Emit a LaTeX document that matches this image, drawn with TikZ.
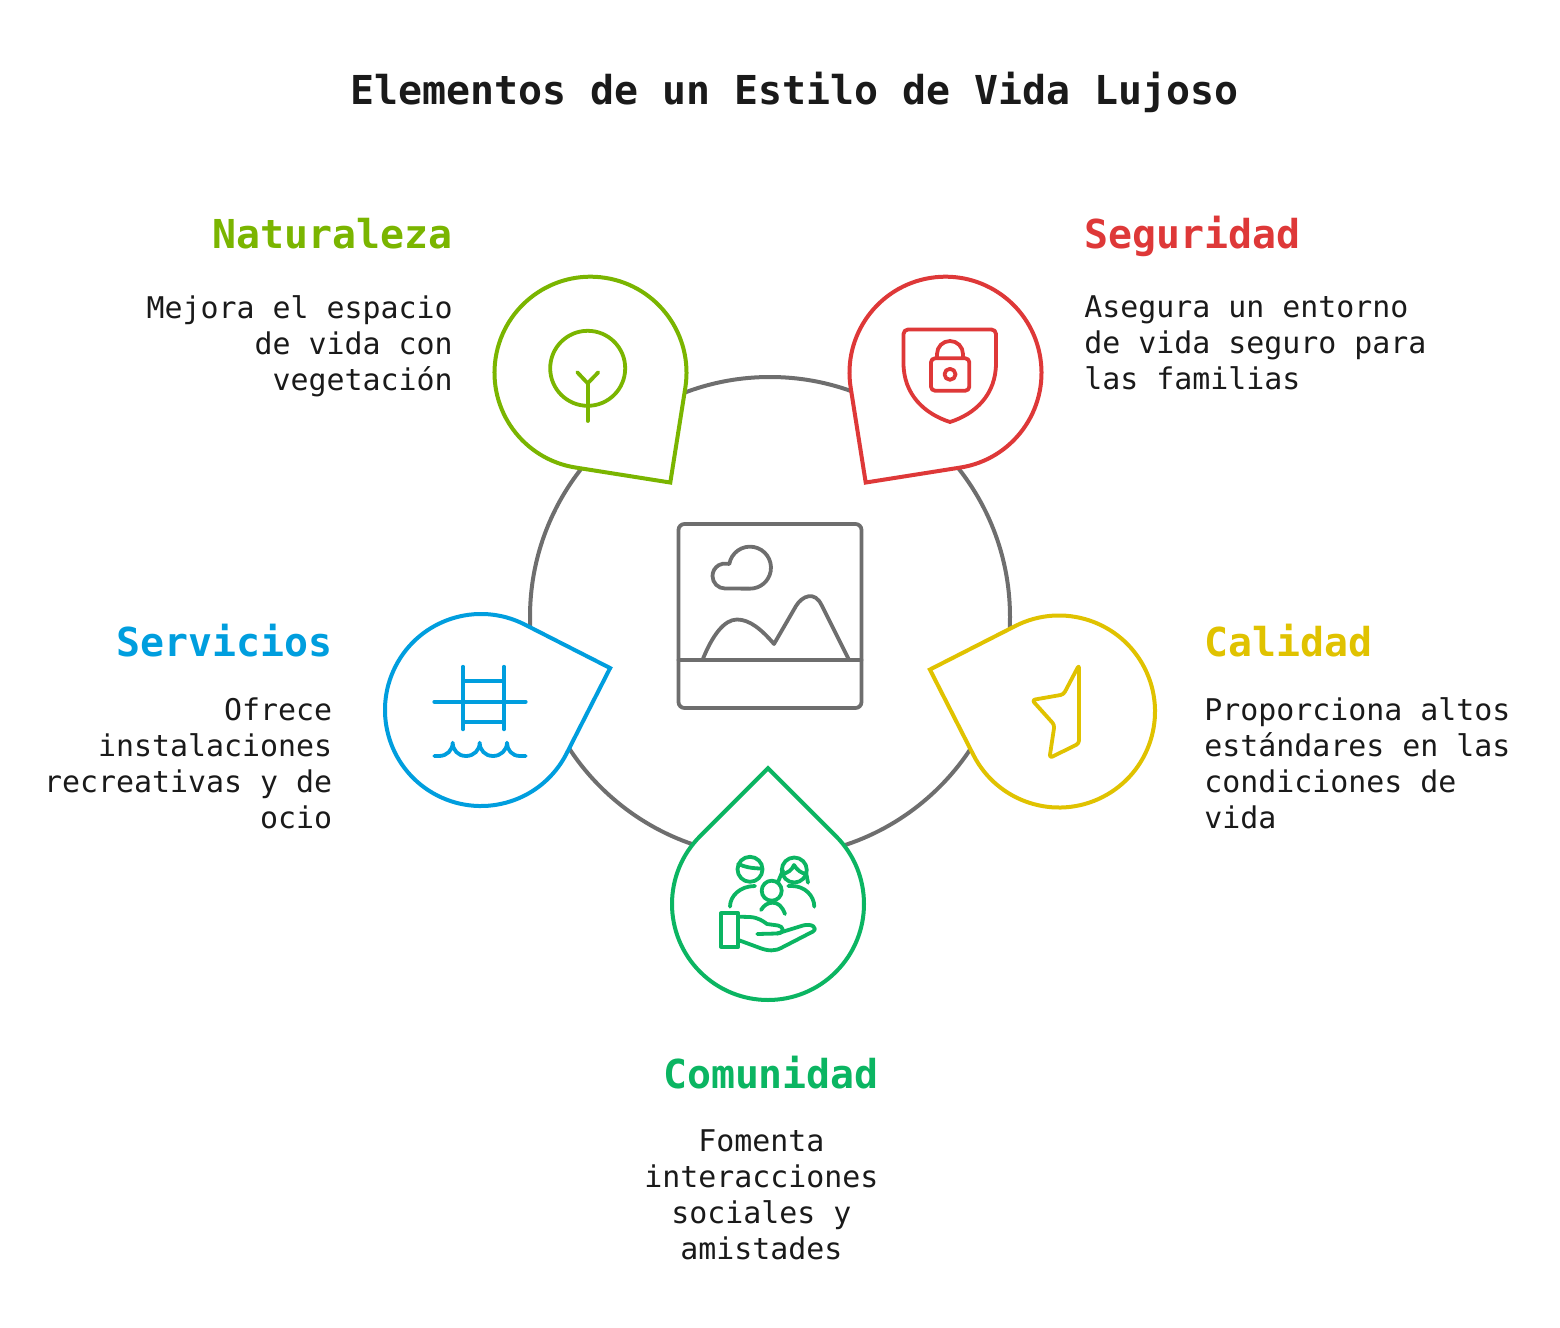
\documentclass[tikz,border=0pt]{standalone}
\usepackage{fontspec}
\setmonofont{DejaVu Sans Mono}
\usetikzlibrary{positioning, calc}
\definecolor{mygray}{RGB}{110,110,110}
\definecolor{myink}{RGB}{26,26,26}
\definecolor{myolive}{RGB}{122,181,0}
\definecolor{myred}{RGB}{222,56,56}
\definecolor{myyellow}{RGB}{224,194,0}
\definecolor{myblue}{RGB}{0,158,222}
\definecolor{mygreen}{RGB}{11,181,98}
\tikzset{
  ring/.style={draw=mygray, line width=2pt},
  drop/.style={line width=2pt, fill=white, line join=miter},
  icon/.style={line width=1.9pt, line cap=round, line join=round},
  titletext/.style={inner sep=0, text=myink, font=\ttfamily\bfseries\fontsize{19.93}{24}\selectfont},
  head/.style={inner sep=0, font=\ttfamily\bfseries\fontsize{19.93}{24}\selectfont},
  body/.style={inner sep=0, text=myink, font=\ttfamily\fontsize{14.95}{18}\selectfont}
}
\newcommand{\teardrop}[4]{
  \draw[drop,draw=#1] (#2,#3) ++({#4+45}:96) arc[start angle=#4+45, end angle=#4+315, radius=96]
    -- ($(#2,#3)+(#4:135.76)$) -- cycle;
}
\begin{document}
\begin{tikzpicture}[x=0.5pt,y=-0.5pt]
\useasboundingbox (0,0) rectangle (1560,1328);

\node [titletext] (title) at (794.5,92) {Elementos de un Estilo de Vida Lujoso};

\draw[ring] (770,617) circle [radius=240];

\teardrop{myolive}{590.5}{372.7}{54}
\teardrop{myred}{945.5}{372.7}{126}
\teardrop{myyellow}{1059}{711.5}{198}
\teardrop{myblue}{481}{710}{342}
\teardrop{mygreen}{768}{904}{270}

%center picture
\draw[icon,draw=mygray,rounded corners=3pt] (678.5,524) rectangle (861.5,708);
\draw[icon,draw=mygray] (678.5,660) -- (861.5,660);
\draw[icon,draw=mygray] (702.5,660) .. controls (712,636) and (724,619.5) .. (737,619.5)
  .. controls (750,619.5) and (762,630) .. (774,644) -- (796,606)
  .. controls (802,596) and (815,590) .. (822,606) -- (849,660);
\draw[icon,draw=mygray] (725,588.5) arc[start angle=90, end angle=280, radius=12.5]
  -- (729.3,564) arc[start angle=190, end angle=450, radius=21] -- cycle;

%naturaleza
\draw[icon,draw=myolive] (587.7,368.3) circle [radius=37.5];
\draw[icon,draw=myolive] (587.7,383.3) -- (587.7,421);
\draw[icon,draw=myolive] (577.3,372.3) -- (587.7,383.3) -- (598.3,372.3);

%seguridad
\draw[icon,draw=myred] (950,422) .. controls (925,414) and (903.5,395) .. (903.5,363)
  -- (903.5,334) arc[start angle=180, end angle=270, radius=4.5] -- (991.5,329.5)
  arc[start angle=270, end angle=360, radius=4.5] -- (996,363)
  .. controls (996,395) and (975,414) .. (950,422) -- cycle;
\draw[icon,draw=myred,rounded corners=2pt] (931,358.3) rectangle (969.3,390.7);
\draw[icon,draw=myred] (937,358) -- (937,354) arc[start angle=180, end angle=360, radius=13] -- (963,358);
\draw[icon,draw=myred] (950,374.3) circle [radius=5.5];

%calidad
\draw[icon,draw=myyellow,rounded corners=1.5pt] (1079,665) -- (1079,743.5) -- (1049.5,758)
  -- (1054.5,725) -- (1032,700) -- (1063.5,694.5) -- cycle;

%servicios
\draw[icon,draw=myblue] (463,666.7) -- (463,729.3);
\draw[icon,draw=myblue] (504,666.7) -- (504,729.3);
\draw[icon,draw=myblue] (463,681) -- (504,681);
\draw[icon,draw=myblue] (434.3,701.7) -- (525.7,701.7);
\draw[icon,draw=myblue] (463,721.7) -- (504,721.7);
\draw[icon,draw=myblue] (434.3,756) -- (439,756) .. controls (447,756) and (452.7,750) .. (452.7,742.7)
  .. controls (452.7,750) and (458,756) .. (466,756) .. controls (474,756) and (479.7,750) .. (479.7,742.7)
  .. controls (479.7,750) and (485,756) .. (493,756) .. controls (501,756) and (507,750) .. (507,742.7)
  .. controls (507,750) and (512,756) .. (520,756) -- (525.7,756);

%comunidad
\draw[icon,draw=mygreen] (750,869.3) circle [radius=12.5];
\draw[icon,draw=mygreen] (738.3,864) .. controls (745,867) and (752,868.5) .. (762.3,868.5);
\draw[icon,draw=mygreen] (794.3,870) circle [radius=12.5];
\draw[icon,draw=mygreen] (782,874) .. controls (788,873) and (792,870) .. (794,865) .. controls (797,870) and (801,873) .. (806,874);
\draw[icon,draw=mygreen] (778,882) -- (783,870);
\draw[icon,draw=mygreen] (806,872) -- (808,882.7);
\draw[icon,draw=mygreen] (771.7,890.7) circle [radius=10];
\draw[icon,draw=mygreen] (761,910) .. controls (764,905) and (768,902.7) .. (772.7,902.7) .. controls (778,902.7) and (782,906) .. (785,914);
\draw[icon,draw=mygreen] (730,906.7) .. controls (730,896) and (740,886) .. (755,886);
\draw[icon,draw=mygreen] (788.3,886) -- (792,886) .. controls (805,886) and (814.3,896) .. (814.3,906.7);
\draw[icon,draw=mygreen] (721,913.3) rectangle (738.3,946.7);
\draw[icon,draw=mygreen] (738.3,916.7) -- (750,917) .. controls (758,917.5) and (763,921) .. (767,924)
  -- (778,925.5) .. controls (783,926) and (786,933) .. (777,933.5) -- (757.3,934);
\draw[icon,draw=mygreen] (777,933.5) -- (803,925.5) .. controls (812,923) and (818,928) .. (813,931.5)
  -- (782,947.5) .. controls (775,951.5) and (768,951) .. (760,948) -- (738.3,940);

%labels
\node [head,text=myolive,anchor=base east] (naturaleza) at (453,248) {Naturaleza};
\node [body,anchor=north east,align=right] (naturalezatext) at (453,295) {Mejora el espacio\\de vida con\\vegetación};

\node [head,text=myred,anchor=base west] (seguridad) at (1084,248) {Seguridad};
\node [body,anchor=north west,align=left] (seguridadtext) at (1084,295) {Asegura un entorno\\de vida seguro para\\las familias};

\node [head,text=myyellow,anchor=base west] (calidad) at (1204,656) {Calidad};
\node [body,anchor=north west,align=left] (calidadtext) at (1204,697) {Proporciona altos\\estándares en las\\condiciones de\\vida};

\node [head,text=myblue,anchor=base east] (servicios) at (332.5,656) {Servicios};
\node [body,anchor=north east,align=right] (serviciostext) at (332.5,697) {Ofrece\\instalaciones\\recreativas y de\\ocio};

\node [head,text=mygreen,anchor=base] (comunidad) at (771,1088) {Comunidad};
\node [body,anchor=north,align=center] (comunidadtext) at (761.5,1129) {Fomenta\\interacciones\\sociales y\\amistades};

\end{tikzpicture}
\end{document}
